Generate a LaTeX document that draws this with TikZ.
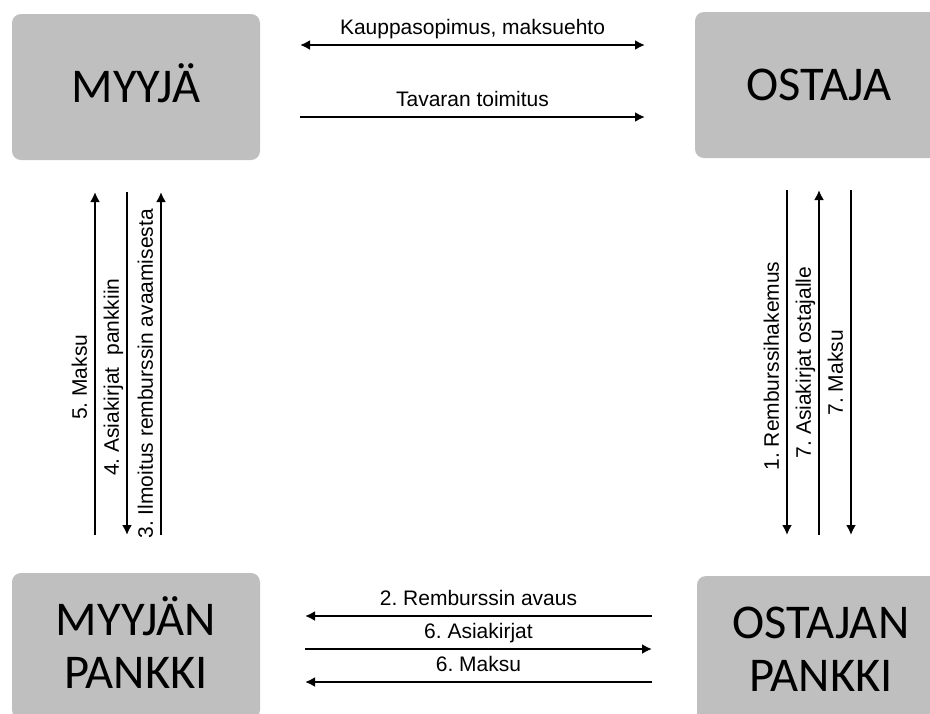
\documentclass[tikz,border=0pt]{standalone}
\usepackage{fontspec}
\setmainfont{Liberation Sans}
\newfontfamily\boxfont{Carlito}
\usetikzlibrary{arrows.meta}
\frenchspacing

\begin{document}
\begin{tikzpicture}[x=1pt, y=-1pt,
		party/.style={rectangle, rounded corners=9pt, fill=black!25, minimum width=248pt, minimum height=146pt, align=center, text height=31pt, text depth=0pt, font=\boxfont\fontsize{48.5}{53}\selectfont},
		bank/.style={party, text height=84pt},
		flow/.style={line width=2.2pt, -{Latex[length=10pt,width=10pt]}},
		dflow/.style={line width=2.2pt, {Latex[length=10pt,width=10pt]}-{Latex[length=10pt,width=10pt]}},
		lbl/.style={font=\fontsize{21}{24}\selectfont, text depth=0pt},
		hlbl/.style={lbl, above, inner sep=9pt},
		vlbl/.style={lbl, rotate=90, anchor=south, inner sep=7pt}]
		\clip (0,0) rectangle (930,713);

		\draw (136,87) node [party] (myyja) {MYYJÄ};
		\draw (819,85) node [party] (ostaja) {OSTAJA};
		\draw (136,646) node [bank] (mpankki) {MYYJÄN\\PANKKI};
		\draw (821,649) node [bank] (opankki) {OSTAJAN\\PANKKI};

		% ends of the flows
		\coordinate (k1) at (300,45);   \coordinate (k2) at (645,45);
		\coordinate (t1) at (300,117);  \coordinate (t2) at (645,117);
		\coordinate (m5a) at (95,535);  \coordinate (m5b) at (95,192);
		\coordinate (a4a) at (127,192); \coordinate (a4b) at (127,535);
		\coordinate (i3a) at (161,535); \coordinate (i3b) at (161,192);
		\coordinate (r1a) at (787,190); \coordinate (r1b) at (787,535);
		\coordinate (a7a) at (819,535); \coordinate (a7b) at (819,190);
		\coordinate (m7a) at (851,190); \coordinate (m7b) at (851,535);
		\coordinate (r2a) at (652,616); \coordinate (r2b) at (305,616);
		\coordinate (a6a) at (305,649); \coordinate (a6b) at (652,649);
		\coordinate (m6a) at (652,682); \coordinate (m6b) at (305,682);

		\draw
			(k1) edge [dflow] node [hlbl] {Kauppasopimus, maksuehto} (k2)
			(t1) edge [flow] node [hlbl] {Tavaran toimitus} (t2)
			(m5a) edge [flow] node [vlbl, pos=0.46] {5. Maksu} (m5b)
			(a4a) edge [flow] node [vlbl, pos=0.54] {4. Asiakirjat\ \ pankkiin} (a4b)
			(i3a) edge [flow] node [vlbl, pos=0.47] {3. Ilmoitus remburssin avaamisesta} (i3b)
			(r1a) edge [flow] node [vlbl, pos=0.51] {1. Remburssihakemus} (r1b)
			(a7a) edge [flow] node [vlbl, pos=0.5] {7. Asiakirjat ostajalle} (a7b)
			(m7a) edge [flow] node [vlbl, pos=0.53] {7. Maksu} (m7b)
			(r2a) edge [flow] node [hlbl] {2. Remburssin avaus} (r2b)
			(a6a) edge [flow] node [hlbl] {6. Asiakirjat} (a6b)
			(m6a) edge [flow] node [hlbl] {6. Maksu} (m6b)
		;
	\end{tikzpicture}
\end{document}
